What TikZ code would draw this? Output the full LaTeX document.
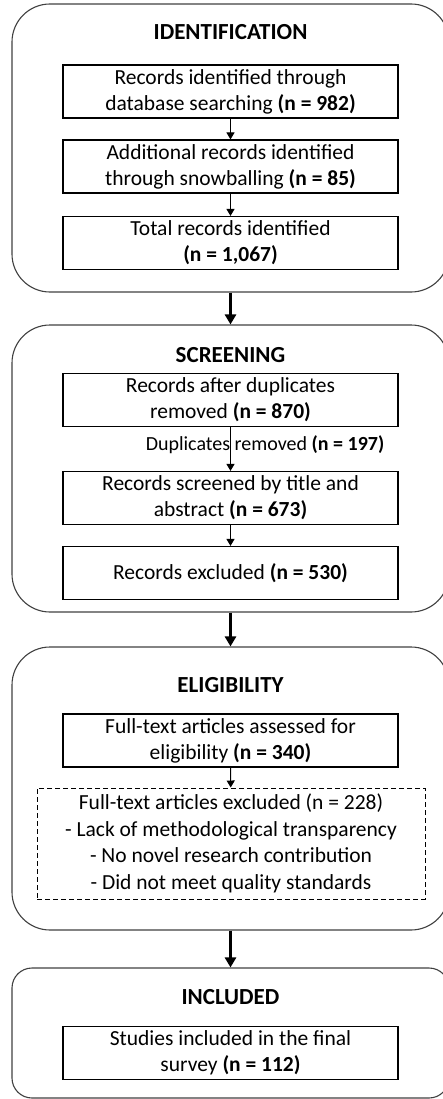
\documentclass[tikz,border=0pt]{standalone}
\usepackage{fontspec}
\setmainfont{Carlito}
\usetikzlibrary{arrows.meta}

\begin{document}
\begin{tikzpicture}[x=1pt,y=-1pt,
    stage/.style={draw=black!75,line width=1.1pt,rounded corners=38pt,minimum width=437pt,inner sep=0pt},
    rec/.style={draw,line width=1.1pt,minimum width=335pt,minimum height=53pt,inner sep=0pt,align=center,font=\fontsize{21.5}{26}\selectfont},
    ttl/.style={font=\fontsize{23}{28}\selectfont\bfseries},
    small/.style={-{Triangle[length=7pt,width=8pt]},line width=1pt},
    big/.style={-{Triangle[length=10pt,width=11pt]},line width=2.6pt}]
    \useasboundingbox (0,0) rectangle (443,1099);
    \clip (0,0) rectangle (443,1099);
    % the four stages
    \node[stage,minimum height=288pt] (P1) at (230.5,148) {};
    \node[stage,minimum height=287pt] (P2) at (230.5,468.5) {};
    \node[stage,minimum height=283pt] (P3) at (230.5,788.5) {};
    \node[stage,minimum height=130pt,rounded corners=20pt] (P4) at (230.5,1033) {};
    \node[ttl] (T1) at (230.5,32) {IDENTIFICATION};
    \node[ttl] (T2) at (230.5,355) {SCREENING};
    \node[ttl] (T3) at (230.5,685) {ELIGIBILITY};
    \node[ttl] (T4) at (230.5,997) {INCLUDED};
    % identification
    \node[rec] (db) at (230.5,91.5) {Records identified through\\database searching \textbf{(n = 982)}};
    \node[rec] (snow) at (230.5,166.5) {Additional records identified\\through snowballing \textbf{(n = 85)}};
    \node[rec] (total) at (230.5,243) {Total records identified\\\textbf{(n = 1,067)}};
    % screening
    \node[rec] (dedup) at (230.5,400) {Records after duplicates\\removed \textbf{(n = 870)}};
    \node[font=\fontsize{20}{24}\selectfont] (dup) at (265,445) {Duplicates removed \textbf{(n = 197)}};
    \node[rec] (screen) at (230.5,498) {Records screened by title and\\abstract \textbf{(n = 673)}};
    \node[rec] (rexcl) at (230.5,573) {Records excluded \textbf{(n = 530)}};
    % eligibility
    \node[rec] (full) at (230.5,740.5) {Full-text articles assessed for\\eligibility \textbf{(n = 340)}};
    \node[draw,dashed,dash pattern=on 5pt off 3pt,line width=1pt,minimum width=388pt,minimum height=111pt,align=center,font=\fontsize{21.5}{26.5}\selectfont] (fexcl) at (231,843.5) {Full-text articles excluded (n = 228)\\- Lack of methodological transparency\\- No novel research contribution\\- Did not meet quality standards};
    % included
    \node[rec] (final) at (230.5,1053) {Studies included in the final\\survey \textbf{(n = 112)}};

    \draw[small] (db) -- (snow);
    \draw[small] (snow) -- (total);
    \draw[small] (dedup) -- (screen);
    \draw[small] (screen) -- (rexcl);
    \draw[small] (full) -- (fexcl);
    \draw[big] (P1) -- (P2);
    \draw[big] (P2) -- (P3);
    \draw[big] (P3) -- (P4);
\end{tikzpicture}
\end{document}
